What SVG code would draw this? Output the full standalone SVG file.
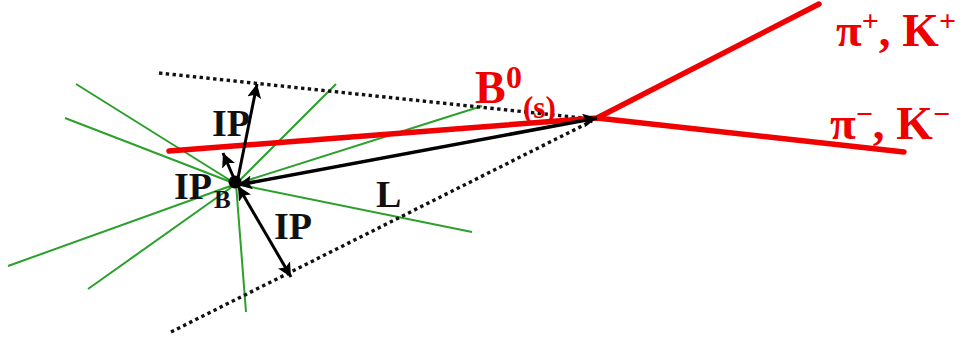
<svg xmlns="http://www.w3.org/2000/svg" width="963" height="340" viewBox="0 0 963 340">
<style>
.g{stroke:#2ba02b;stroke-width:2;fill:none}
.r{stroke:#f00000;stroke-width:5.5;fill:none;stroke-linecap:round}
.d{stroke:#111;stroke-width:3.4;stroke-dasharray:3.4 3.4;fill:none}
.a{stroke:#000;stroke-width:3;fill:none}
.t{font-family:"Liberation Serif",serif;font-weight:700}
.k{fill:#111}.f{fill:#ee0000}
</style>
<defs>
<marker id="ah" markerUnits="userSpaceOnUse" markerWidth="16" markerHeight="14" refX="14" refY="7" orient="auto-start-reverse"><path d="M0 0L14 7L0 14L3 7Z" fill="#000"/></marker>
</defs>
<rect width="963" height="340" fill="#fff"/>
<g id="connectors">
<path class="g" d="M76 84L236 184M65 118L236 184M336 84L236 184M482 106L236 184M472 232L236 184M8 266L236 184M88 289L236 184M246 312L236 184"/>
<path class="d" d="M159 73L592 119M171 332L592 121"/>
<path class="r" d="M169 151L597 118M597 118L819 4M597 118L904 152"/>
<path class="a" d="M237 183L257 84" marker-end="url(#ah)"/>
<path class="a" d="M236 183L223 153" marker-end="url(#ah)"/>
<path class="a" d="M238 186L291 277" marker-start="url(#ah)" marker-end="url(#ah)"/>
<path class="a" style="stroke-width:3.5" d="M238 185L597 118" marker-start="url(#ah)" marker-end="url(#ah)"/>
<circle cx="235" cy="182" r="6.5" fill="#000"/>
</g>
<g id="label-ip-top"><text class="t k" x="212" y="136" font-size="38">IP</text></g>
<g id="label-ipb"><text class="t k" x="174" y="199" font-size="38">IP</text><text class="t k" x="214" y="208" font-size="25">B</text></g>
<g id="label-ip-bottom"><text class="t k" x="274" y="239" font-size="38">IP</text></g>
<g id="label-l"><text class="t k" x="376" y="207" font-size="38">L</text></g>
<g id="label-b"><text class="t f" x="475" y="103" font-size="46">B</text><text class="t f" x="506" y="88" font-size="32">0</text><text class="t f" x="523" y="118" font-size="31">(s)</text></g>
<g id="label-pi-plus"><text class="t f" x="836" y="46" font-size="47">π<tspan font-size="30" dy="-15">+</tspan><tspan dy="15">, K</tspan><tspan font-size="30" dy="-15">+</tspan></text></g>
<g id="label-pi-minus"><text class="t f" x="830" y="139" font-size="47">π<tspan font-size="30" dy="-15">−</tspan><tspan dy="15">, K</tspan><tspan font-size="30" dy="-15">−</tspan></text></g>
</svg>
